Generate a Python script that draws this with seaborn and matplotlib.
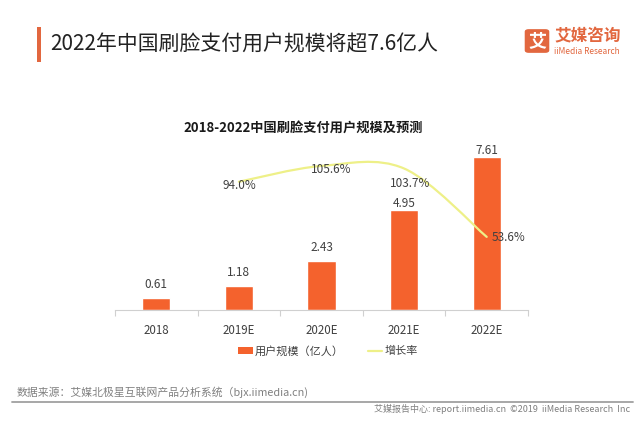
import numpy as np
import pandas as pd
import matplotlib
matplotlib.use("Agg")
import matplotlib.pyplot as plt
from matplotlib.path import Path
from matplotlib.patches import PathPatch, Patch, FancyBboxPatch, Rectangle
from matplotlib.lines import Line2D
import seaborn as sns

# ---------------- data ----------------
years = ["2018", "2019E", "2020E", "2021E", "2022E"]
users = [0.61, 1.18, 2.43, 4.95, 7.61]            # 用户规模（亿人）
growth = [np.nan, 94.0, 105.6, 103.7, 53.6]       # 增长率 (%)
growth_labels = ["", "94.0%", "105.6%", "103.7%", "53.6%"]

title_main = "2022年中国刷脸支付用户规模将超7.6亿人"
title_chart = "2018-2022中国刷脸支付用户规模及预测"
legend_labels = ["用户规模（亿人）", "增长率"]
source_text = "数据来源：艾媒北极星互联网产品分析系统（bjx.iimedia.cn)"
footer_text = "艾媒报告中心: report.iimedia.cn  ©2019  iiMedia Research  Inc"

BAR_COLOR = "#F4622D"
LINE_COLOR = "#EEF088"
TEXT_COLOR = "#404040"
ACCENT = "#E2673F"

sns.set_theme(style="white")
plt.rcParams["font.family"] = ["Noto Sans CJK SC", "DejaVu Sans"]

W, H = 640, 429
fig = plt.figure(figsize=(W / 100, H / 100), dpi=100)
fig.patch.set_facecolor("white")

def fx(px):
    return px / W

def fy(py):
    return 1 - py / H

# axes: x 115..528 px, baseline 310 px, top 149 px
ax = fig.add_axes([fx(115), fy(310), fx(528) - fx(115), fy(149) - fy(310)])
df = pd.DataFrame({"year": years, "users": users, "growth": growth})
sns.barplot(data=df, x="year", y="users", color=BAR_COLOR, width=0.34,
            saturation=1, ax=ax, zorder=2)
ax.set_xlim(-0.5, len(years) - 0.5)
ax.set_ylim(0, 8)
ax.set_xlabel("")
ax.set_ylabel("")
ax.set_yticks([])
for s in ["top", "right", "left"]:
    ax.spines[s].set_visible(False)
ax.spines["bottom"].set_color("#D0D0D0")
ax.spines["bottom"].set_linewidth(0.8)
ax.tick_params(axis="x", which="major", length=0, labelsize=8.3,
               labelcolor=TEXT_COLOR, pad=10)
ax.set_xticks(np.arange(-0.5, len(years)), minor=True)
ax.tick_params(axis="x", which="minor", length=4, color="#D0D0D0", width=0.8,
               direction="out", bottom=True)
ax.patch.set_alpha(0)

bar_pads = [5, 5, 5, 0, 0]
for i, (bar, v) in enumerate(zip(ax.patches, users)):
    ax.annotate(f"{v:.2f}", (bar.get_x() + bar.get_width() / 2, bar.get_height()),
                xytext=(0, bar_pads[i]), textcoords="offset points",
                ha="center", va="bottom", fontsize=8.5, color=TEXT_COLOR)

# secondary axis for growth line (smoothed like Excel)
ax2 = ax.twinx()
ax2.set_ylim(0, 118)
ax2.set_yticks([])
for s in ax2.spines.values():
    s.set_visible(False)

xs = [i for i, g in enumerate(growth) if not np.isnan(g)]
ys = [g for g in growth if not np.isnan(g)]
pts = np.column_stack([xs, ys]).astype(float)
ext = np.vstack([pts[0], pts, pts[-1]])
verts = [tuple(pts[0])]
codes = [Path.MOVETO]
for i in range(1, len(ext) - 2):
    p0, p1, p2, p3 = ext[i - 1], ext[i], ext[i + 1], ext[i + 2]
    c1 = p1 + (p2 - p0) / 6.0
    c2 = p2 - (p3 - p1) / 6.0
    verts += [tuple(c1), tuple(c2), tuple(p2)]
    codes += [Path.CURVE4] * 3
ax2.add_patch(PathPatch(Path(verts, codes), fill=False, edgecolor=LINE_COLOR,
                        lw=1.6, zorder=3, capstyle="round"))

label_offsets = {1: (0, -4), 2: (10, -4), 3: (6, -15), 4: (22, -1)}
for i, g in enumerate(growth):
    if np.isnan(g):
        continue
    dx, dy = label_offsets[i]
    ax2.annotate(growth_labels[i], (i, g), xytext=(dx, dy),
                 textcoords="offset pixels", ha="center", va="center",
                 fontsize=8.5, color=TEXT_COLOR, zorder=4)

# legend
handles = [Patch(facecolor=BAR_COLOR, edgecolor="none"),
           Line2D([0], [0], color=LINE_COLOR, lw=1.6)]
fig.legend(handles, legend_labels, loc="center",
           bbox_to_anchor=(fx(328), fy(351)), ncol=2, frameon=False,
           fontsize=8, handlelength=1.3, handleheight=0.6, handletextpad=0.15,
           columnspacing=2.2, labelcolor=TEXT_COLOR)

# titles
fig.add_artist(Rectangle((fx(37), fy(62)), fx(4), fy(27) - fy(62),
                         transform=fig.transFigure, color=ACCENT, lw=0))
fig.text(fx(50), fy(44), title_main, fontsize=15, color="#222222",
         ha="left", va="center")
fig.text(fx(303), fy(128), title_chart, fontsize=9.5, fontweight="bold",
         color="#1a1a1a", ha="center", va="center")

# logo
fig.add_artist(FancyBboxPatch((fx(526), fy(52)), fx(22), fy(30) - fy(52),
                              boxstyle="round,pad=0.002,rounding_size=0.006",
                              transform=fig.transFigure, facecolor=ACCENT,
                              edgecolor="none"))
fig.text(fx(537), fy(41), "艾", fontsize=13, fontweight="bold", color="white",
         ha="center", va="center")
fig.text(fx(554), fy(36), "艾媒咨询", fontsize=12, fontweight="bold",
         color=ACCENT, ha="left", va="center")
fig.text(fx(554), fy(51), "iiMedia Research", fontsize=6, color=ACCENT,
         ha="left", va="center")

# source & footer
fig.text(fx(17), fy(392), source_text, fontsize=7.8, color="#808080",
         ha="left", va="center")
fig.add_artist(Line2D([fx(12), fx(633)], [fy(402), fy(402)],
                      transform=fig.transFigure, color="#A0A0A0", lw=1.3))
fig.text(fx(630), fy(409), footer_text, fontsize=6.5, color="#808080",
         ha="right", va="center")

fig.savefig("out.png", dpi=100, facecolor="white")
